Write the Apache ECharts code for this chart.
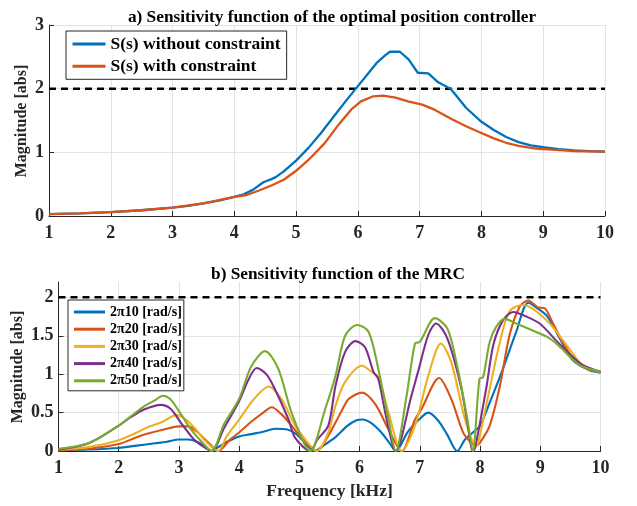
<!DOCTYPE html>
<html><head><meta charset="utf-8">
<script src="https://cdn.jsdelivr.net/npm/echarts@6/dist/echarts.min.js"></script>
<style>html,body{margin:0;padding:0;background:#fff}#c{width:637px;height:506px}</style>
</head><body><div id="c"></div>
<script>
// ---- Top plot data (kHz, abs) ----
const topFreqA = [1,1.5,2,2.5,3,3.25,3.5,3.75,4,4.15,4.3,4.47,4.6,4.67,4.8,5,5.2,5.4,5.6,5.8,6,6.15,6.3,6.45,6.52,6.68,6.82,6.97,7.14,7.3,7.5,7.6,7.75,8,8.2,8.4,8.6,8.8,9,9.25,9.5,9.75,10];
const topMagA  = [0.03,0.04,0.06,0.09,0.13,0.16,0.2,0.24,0.3,0.34,0.41,0.53,0.58,0.61,0.7,0.87,1.07,1.3,1.55,1.8,2.04,2.22,2.4,2.53,2.58,2.58,2.46,2.25,2.24,2.1,2.0,1.88,1.7,1.48,1.35,1.24,1.16,1.11,1.08,1.05,1.03,1.02,1.01];
const topFreqB = [1,1.5,2,2.5,3,3.5,4,4.2,4.4,4.6,4.8,5,5.2,5.46,5.7,5.89,6.05,6.25,6.41,6.61,6.81,7.04,7.24,7.5,7.75,7.96,8.2,8.4,8.6,8.88,9.2,9.5,10];
const topMagB  = [0.03,0.04,0.06,0.09,0.13,0.2,0.3,0.33,0.4,0.48,0.57,0.71,0.88,1.14,1.45,1.67,1.8,1.88,1.89,1.86,1.8,1.75,1.67,1.53,1.41,1.32,1.22,1.15,1.1,1.06,1.04,1.02,1.01];
const topNames = ['S(s) without constraint','S(s) with constraint'];

// ---- Bottom plot data ----
const f10 = [1,1.5,2,2.3,2.6,2.8,3,3.15,3.3,3.45,3.54,3.65,3.8,4,4.2,4.4,4.6,4.8,4.95,5.1,5.25,5.4,5.6,5.8,5.95,6.05,6.2,6.35,6.5,6.6,6.8,7,7.14,7.3,7.45,7.62,7.75,7.88,8,8.16,8.38,8.6,8.8,8.93,9.12,9.32,9.54,9.82,10];
const m10 = [0.01,0.02,0.04,0.07,0.1,0.12,0.15,0.15,0.12,0.05,0.0,0.05,0.12,0.19,0.22,0.25,0.29,0.28,0.22,0.1,0.0,0.07,0.18,0.33,0.4,0.41,0.36,0.25,0.1,0.0,0.25,0.42,0.5,0.4,0.22,0.0,0.15,0.24,0.33,0.63,1.07,1.55,1.93,1.87,1.75,1.47,1.18,1.05,1.02];
const f20 = [1,1.5,2,2.3,2.5,2.75,3,3.15,3.3,3.5,3.65,3.85,4,4.2,4.4,4.54,4.7,4.85,5,5.15,5.29,5.48,5.6,5.76,5.82,6.04,6.26,6.48,6.7,6.92,7.03,7.32,7.52,7.72,7.85,7.93,8,8.16,8.33,8.49,8.66,8.8,8.96,9.07,9.2,9.37,9.59,9.8,10];
const m20 = [0.01,0.03,0.09,0.18,0.23,0.28,0.32,0.32,0.25,0.1,0.0,0.15,0.24,0.38,0.5,0.57,0.48,0.35,0.2,0.08,0.0,0.2,0.37,0.61,0.68,0.76,0.61,0.28,0.0,0.41,0.55,0.95,0.68,0.24,0.11,0.07,0.11,0.33,0.85,1.51,1.88,1.96,1.87,1.86,1.68,1.42,1.16,1.06,1.03];
const f30 = [1,1.5,2,2.3,2.48,2.7,2.86,2.95,3.1,3.26,3.45,3.65,3.8,4,4.25,4.49,4.7,4.93,5.18,5.29,5.48,5.6,5.76,6.04,6.2,6.31,6.48,6.7,6.92,7.14,7.35,7.52,7.72,7.85,7.93,7.97,8.16,8.33,8.49,8.71,8.93,9.2,9.48,9.7,10];
const m30 = [0.02,0.05,0.14,0.24,0.31,0.37,0.44,0.47,0.42,0.3,0.12,0.0,0.2,0.41,0.68,0.84,0.68,0.33,0.07,0.0,0.24,0.59,0.9,1.11,1.03,0.96,0.5,0.0,0.33,0.98,1.4,1.16,0.5,0.17,0.07,0.11,0.81,1.42,1.82,1.9,1.82,1.62,1.33,1.12,1.03];
const f40 = [1,1.5,2,2.2,2.42,2.7,2.86,3.03,3.25,3.4,3.54,3.75,4,4.15,4.29,4.45,4.59,4.82,4.93,5.18,5.3,5.48,5.6,5.76,5.93,6.09,6.23,6.31,6.45,6.6,6.86,6.97,7.14,7.27,7.46,7.68,7.79,7.88,7.92,8.11,8.22,8.38,8.55,8.71,8.99,9.26,9.48,9.7,10];
const m40 = [0.02,0.1,0.33,0.44,0.54,0.6,0.55,0.37,0.15,0.06,0.0,0.3,0.65,0.92,1.08,1.0,0.81,0.41,0.17,0.0,0.15,0.33,0.85,1.29,1.43,1.35,1.03,0.94,0.41,0.0,0.72,1.03,1.51,1.66,1.46,0.85,0.37,0.0,0.05,0.85,1.38,1.7,1.81,1.77,1.66,1.44,1.27,1.12,1.03];
const f50 = [1,1.5,2,2.2,2.42,2.6,2.73,2.85,3,3.2,3.4,3.54,3.75,4,4.2,4.43,4.65,4.87,5.18,5.43,5.6,5.76,5.96,6.15,6.31,6.48,6.6,6.78,6.92,7,7.25,7.46,7.63,7.79,7.88,7.99,8.05,8.16,8.27,8.41,8.6,8.93,9.15,9.32,9.65,10];
const m50 = [0.03,0.1,0.33,0.45,0.58,0.66,0.72,0.68,0.52,0.28,0.1,0.0,0.35,0.68,1.1,1.3,1.07,0.5,0.0,0.55,0.98,1.5,1.64,1.55,1.07,0.41,0.0,0.72,1.4,1.42,1.73,1.59,1.07,0.41,0.0,0.94,0.96,1.42,1.62,1.72,1.66,1.55,1.47,1.36,1.12,1.03];
const botNames = ['2\u03c010 [rad/s]','2\u03c020 [rad/s]','2\u03c030 [rad/s]','2\u03c040 [rad/s]','2\u03c050 [rad/s]'];
const limit = 2;

const colors5 = ['#0072BD','#D95319','#EDB120','#7E2F8E','#77AC30'];
const FONT = '"Liberation Serif","Times New Roman",serif';
const axisCol = '#262626';
const gridCol = '#e3e3e3';

function zip(a,b){return a.map((v,i)=>[v,b[i]]);}

function xAxis(gi, withName){
  return {
    type:'value', gridIndex:gi, min:1, max:10, interval:1,
    axisLine:{show:true,lineStyle:{color:axisCol,width:1}},
    axisTick:{show:true,inside:true,length:5,lineStyle:{color:axisCol}},
    axisLabel:{color:axisCol,fontFamily:FONT,fontWeight:'bold',fontSize:18,margin:8},
    splitLine:{show:true,lineStyle:{color:gridCol,width:1},showMinLine:false,showMaxLine:true},
    name: withName ? 'Frequency [kHz]' : '',
    nameLocation:'middle', nameGap:31,
    nameTextStyle:{color:axisCol,fontFamily:FONT,fontWeight:'bold',fontSize:17.5}
  };
}
function yAxis(gi, max, interval, showMax){
  return {
    type:'value', gridIndex:gi, min:0, max:max, interval:interval,
    axisLine:{show:true,lineStyle:{color:axisCol,width:1}},
    axisTick:{show:true,inside:true,length:5,lineStyle:{color:axisCol}},
    axisLabel:{color:axisCol,fontFamily:FONT,fontWeight:'bold',fontSize:18,margin:5,showMaxLabel:showMax},
    splitLine:{show:true,lineStyle:{color:gridCol,width:1},showMinLine:false,showMaxLine:showMax}
  };
}
function yName(x,y){
  return {type:'text',x:x,y:y,rotation:Math.PI/2,silent:true,
    style:{text:'Magnitude [abs]',fill:axisCol,font:'bold 16px '+FONT,align:'center',verticalAlign:'middle'}};
}

const series = [];
const topMags=[topMagA,topMagB], topFreqs=[topFreqA,topFreqB];
topNames.forEach((n,i)=>series.push({name:n,type:'line',xAxisIndex:0,yAxisIndex:0,data:zip(topFreqs[i],topMags[i]),
  showSymbol:false,symbol:'none',lineStyle:{width:2.3,color:colors5[i]},itemStyle:{color:colors5[i]},z:3}));
series.push({name:'lim1',type:'line',xAxisIndex:0,yAxisIndex:0,data:[[1,limit],[10,limit]],showSymbol:false,symbol:'none',
  lineStyle:{width:2.5,color:'#000',type:[7,5]},z:2,silent:true});
const bf=[f10,f20,f30,f40,f50], bm=[m10,m20,m30,m40,m50];
botNames.forEach((n,i)=>series.push({name:n,type:'line',xAxisIndex:1,yAxisIndex:1,data:zip(bf[i],bm[i]),
  showSymbol:false,symbol:'none',smooth:0.3,lineStyle:{width:2.1,color:colors5[i]},itemStyle:{color:colors5[i]},z:3}));
series.push({name:'lim2',type:'line',xAxisIndex:1,yAxisIndex:1,data:[[1,limit],[10,limit]],showSymbol:false,symbol:'none',
  lineStyle:{width:2.5,color:'#000',type:[7,5]},z:2,silent:true});

const chart = echarts.init(document.getElementById('c'),null,{renderer:'canvas'});
chart.setOption({
  animation:false,
  backgroundColor:'#fff',
  title:[
    {text:'a) Sensitivity function of the optimal position controller',left:327,top:4,textAlign:'center',
      textStyle:{fontFamily:FONT,fontWeight:'bold',fontSize:17.3,color:'#000'}},
    {text:'b) Sensitivity function of the MRC',left:333,top:261,textAlign:'center',
      textStyle:{fontFamily:FONT,fontWeight:'bold',fontSize:17.3,color:'#000'}}
  ],
  grid:[
    {left:49,right:32,top:25,height:191},
    {left:58.5,right:36.5,top:282,height:169}
  ],
  legend:[
    {data:topNames,orient:'vertical',left:66,top:31,itemWidth:33,itemHeight:3,itemGap:4.3,
      padding:[4,6,4,6.5],backgroundColor:'#fff',borderColor:axisCol,borderWidth:1,
      icon:'rect',
      textStyle:{color:'#000',fontFamily:FONT,fontWeight:'bold',fontSize:17.5,lineHeight:18}},
    {data:botNames,orient:'vertical',left:68,top:300,itemWidth:31,itemHeight:3,itemGap:3.2,
      padding:[5,2,3,6],backgroundColor:'#fff',borderColor:axisCol,borderWidth:1,
      icon:'rect',
      textStyle:{color:'#000',fontFamily:FONT,fontWeight:'bold',fontSize:14,lineHeight:14}}
  ],
  graphic:[yName(22,121),yName(18,367)],
  xAxis:[xAxis(0,false),xAxis(1,true)],
  yAxis:[yAxis(0,3,1,true),yAxis(1,2.2,0.5,false)],
  series:series
});
</script></body></html>
